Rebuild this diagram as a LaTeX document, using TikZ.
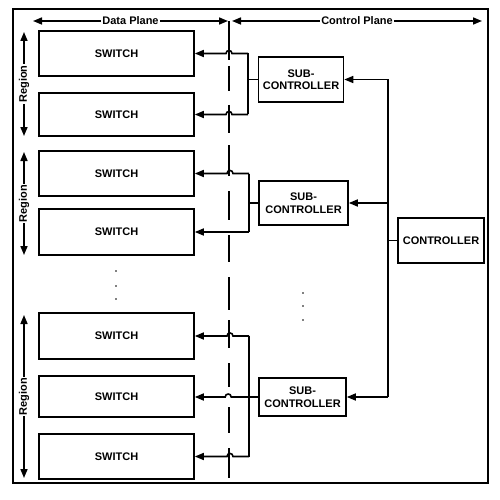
\documentclass[tikz,border=0pt]{standalone}
\usepackage{fontspec}
\setmainfont{Liberation Sans}
\usetikzlibrary{arrows.meta,calc}
\begin{document}
\begin{tikzpicture}[x=1pt,y=-1pt,
  line width=1.6pt,
  font=\fontsize{11}{12.5}\selectfont\bfseries,
  arr/.style={-{Triangle[length=9pt,width=7pt]}},
  darr/.style={{Triangle[length=9pt,width=7pt]}-{Triangle[length=9pt,width=7pt]}},
  box/.style={draw,inner sep=0pt,align=center},
  lbl/.style={fill=white,inner sep=1pt},
  dot/.style={circle,fill=black,inner sep=0pt,minimum size=1.8pt}]
\useasboundingbox (0,0) rectangle (500,500);
\node[draw,inner sep=0pt,minimum width=475pt,minimum height=474pt] (frame) at (250.5,246) {};
% planes
\coordinate (dpL) at (33,21);
\coordinate (dpR) at (228,21);
\coordinate (cpL) at (232,21);
\coordinate (cpR) at (482,21);
\draw[darr] (dpL) -- node[lbl] {Data Plane} (dpR);
\draw[darr] (cpL) -- node[lbl] {Control Plane} (cpR);
% dashed divider
\foreach \a/\b in {21/60,66/91,105/133,145/176,191/220,235/262,277/310,320/348,363/387,407/433,448/478}
  \draw (229,\a) -- (229,\b);
% switches
\foreach \n/\c/\h in {1/53.5/45,2/114.5/43,3/173.5/45,4/232/46,5/336/46,6/396.5/41,7/456.5/45}
  \node[box,minimum width=155pt,minimum height=\h pt] (s\n) at (116.5,\c) {SWITCH};
% regions
\coordinate (r1t) at (24,32); \coordinate (r1b) at (24,136);
\coordinate (r2t) at (24,152); \coordinate (r2b) at (24,255);
\coordinate (r3t) at (24,315); \coordinate (r3b) at (24,478);
\foreach \r in {1,2,3}
  \draw[darr] (r\r t) -- node[lbl,rotate=90] {Region} (r\r b);
% sub-controllers
\node[box,minimum width=85pt,minimum height=45pt] (sc1) at (301,79.5) {SUB-\\CONTROLLER};
\node[box,minimum width=89pt,minimum height=44pt] (sc2) at (303.5,203) {SUB-\\CONTROLLER};
\node[box,minimum width=87pt,minimum height=38pt] (sc3) at (302.5,397) {SUB-\\CONTROLLER};
\node[box,minimum width=86pt,minimum height=45pt] (ctl) at (441,240.5) {CONTROLLER};
% buses
\coordinate (b1t) at (248,53.5); \coordinate (b1m) at (248,79.5); \coordinate (b1b) at (248,114.5);
\coordinate (b2t) at (249,173.5); \coordinate (b2m) at (249,203); \coordinate (b2b) at (249,232);
\coordinate (b3t) at (249,336); \coordinate (b3b) at (249,456.5);
\draw (b1t) -- (b1b); \draw (sc1.west) -- (b1m);
\draw (b2t) -- (b2b); \draw (sc2.west) -- (b2m);
\draw (b3t) -- (b3b);
% hop arrows
\foreach \b/\s in {b1t/s1,b1b/s2,b2t/s3,b3t/s5,b3b/s7}
  \draw[arr] (\b) -- ($(\b)+(-16,0)$) .. controls +(0,-4) and +(0,-4) .. ($(\b)+(-22,0)$) -- (\s.east |- \b);
\draw[arr] (b2b) -- (s4.east |- b2b);
\draw[arr] (sc3.west) -- ($(sc3.west)+(-27,0)$) .. controls +(0,-4) and +(0,-4) .. ($(sc3.west)+(-33,0)$) -- (s6.east |- sc3.west);
% controller
\coordinate (ct) at (388,79.5);
\coordinate (cm) at (388,240.5);
\coordinate (cb) at (388,397);
\draw (ctl.west) -- (cm);
\draw[arr] (ct) -- (sc1.east);
\draw[arr] (cb) -- (sc3.east);
\draw[arr] (cm |- sc2.east) -- (sc2.east);
\draw (ct) -- (cb);
% dots
\foreach \y in {271,286,299} \node[dot] (ld\y) at (116,\y) {};
\foreach \y in {293,306,320} \node[dot] (rd\y) at (303,\y) {};
\end{tikzpicture}
\end{document}
